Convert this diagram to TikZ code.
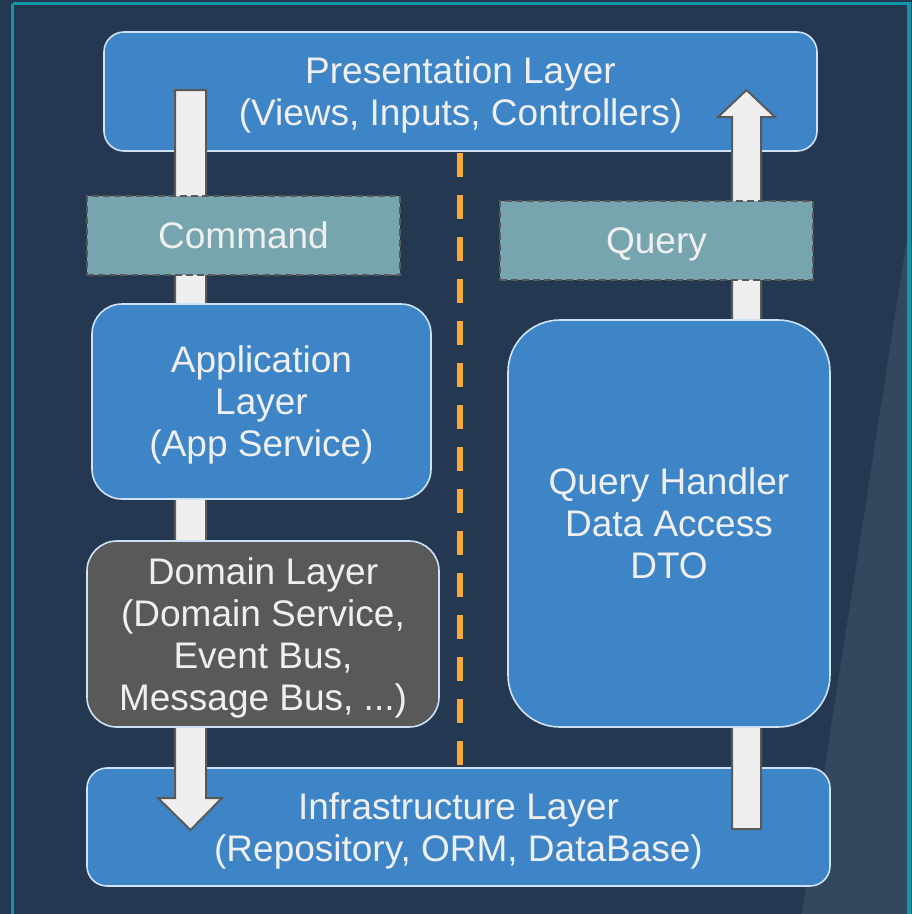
\documentclass[tikz,border=0pt]{standalone}
\usepackage{fontspec}
\setmainfont{Liberation Sans}
\usepackage{tikz}
\usetikzlibrary{arrows.meta, positioning}

\definecolor{slatebg}{HTML}{243951}
\definecolor{slatelight}{HTML}{33475F}
\definecolor{frameteal}{HTML}{0E97A6}
\definecolor{layerblue}{HTML}{3D85C6}
\definecolor{msgteal}{HTML}{76A5AF}
\definecolor{darkgray}{HTML}{595959}
\definecolor{offwhite}{HTML}{EFEFEF}
\definecolor{lineorange}{HTML}{F6A83B}
\definecolor{edgelight}{HTML}{CFE2F3}

\begin{document}
\begin{tikzpicture}[x=1pt, y=-1pt,
    % no depth under the last line, so brackets do not lift the text
    labeltext/.style={text=offwhite, inner sep=0pt, font=\fontsize{37}{42}\selectfont,
        text depth=0pt},
    layer/.style={labeltext, draw=edgelight, line width=1.6pt, fill=layerblue, align=center},
    message/.style={labeltext, draw=darkgray, line width=2pt, dash pattern=on 7pt off 4pt,
        fill=msgteal},
    flow/.style={draw=darkgray, line width=2pt, fill=offwhite, line join=miter},
    divider/.style={lineorange, line width=6pt, dash pattern=on 24pt off 18pt}]

% background and frame
\useasboundingbox (0,0) rectangle (912,914);
\fill[slatebg] (0,0) rectangle (912,914);
\fill[slatelight] (906,245) -- (912,245) -- (912,914) -- (802,914) -- cycle;
\draw[frameteal, line width=3.5pt] (12.5,3.5) -- (909,3.5) -- (909,920) (12.5,3.5) -- (12.5,920);

% outer layers
\node[layer, rounded corners=20pt, minimum width=713pt, minimum height=119pt]
    (pres) at (460.5,91.5) {Presentation Layer\\(Views, Inputs, Controllers)};
\node[layer, rounded corners=20pt, minimum width=743pt, minimum height=118pt]
    (infra) at (458.5,827) {Infrastructure Layer\\(Repository, ORM, DataBase)};

% split between the two sides
\coordinate (split-top) at (460,153);
\coordinate (split-bot) at (460,766);
\draw[divider] (split-top) -- (split-bot);

% command side, going down
\coordinate (cmd-tail) at (175,90);
\coordinate (cmd-tip) at (190.5,830);
\draw[flow] (cmd-tail) -- ++(31,0) -- ++(0,708) -- ++(16,0) -- (cmd-tip)
    -- ++(-32.5,-32) -- ++(17,0) -- cycle;

% query side, going up
\coordinate (qry-tail) at (732,829);
\coordinate (qry-tip) at (746.5,90);
\draw[flow] (qry-tail) -- ++(0,-712) -- ++(-14,0) -- (qry-tip)
    -- ++(28.5,27) -- ++(-14,0) -- ++(0,712) -- cycle;

% messages
\node[message, minimum width=313pt, minimum height=79pt] (cmd) at (243.5,235.5) {Command};
\node[message, minimum width=313pt, minimum height=79pt] (qry) at (656.5,240.5) {Query};

% inner layers
\node[layer, rounded corners=30pt, minimum width=339pt, minimum height=195pt]
    (app) at (261.5,401.5) {Application\\Layer\\(App Service)};
\node[layer, fill=darkgray, rounded corners=30pt, minimum width=352pt, minimum height=186pt]
    (domain) at (263,634) {Domain Layer\\(Domain Service,\\Event Bus,\\Message Bus, ...)};
\node[layer, rounded corners=52pt, minimum width=322pt, minimum height=407pt]
    (handler) at (669,523.5) {Query Handler\\Data Access\\DTO};

\end{tikzpicture}
\end{document}
